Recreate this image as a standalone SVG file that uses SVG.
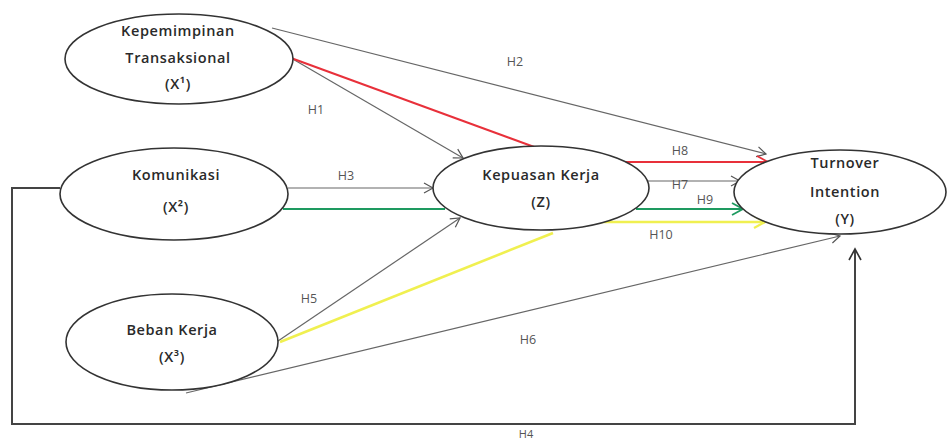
<svg xmlns="http://www.w3.org/2000/svg" width="947" height="441" viewBox="0 0 947 441">
<style>
.node{fill:#fff;stroke:#333;stroke-width:1.6}
.nt{font-family:"Open Sans","Liberation Sans",sans-serif;font-size:14.5px;font-weight:600;letter-spacing:0.6px;fill:#2a2a2a;text-anchor:middle}
.lb{font-family:"Open Sans","Liberation Sans",sans-serif;font-size:12.5px;fill:#555;text-anchor:middle}
.g{fill:none;stroke:#666;stroke-width:1.2}
.red{fill:none;stroke:#e8303a;stroke-width:2}
.grn{fill:none;stroke:#1e9a60;stroke-width:2}
.yel{fill:none;stroke:#f0f050;stroke-width:2.6}
.blk{fill:none;stroke:#444;stroke-width:2}
</style>
<defs>
<marker id="ag" markerWidth="12" markerHeight="12" refX="10" refY="6" orient="auto" markerUnits="userSpaceOnUse"><path d="M1,1 L10,6 L1,11" fill="none" stroke="#555" stroke-width="1.2"/></marker>
<marker id="ar" markerWidth="14" markerHeight="14" refX="12" refY="7" orient="auto" markerUnits="userSpaceOnUse"><path d="M1,1 L12,7 L1,13" fill="none" stroke="#e8303a" stroke-width="1.8"/></marker>
<marker id="an" markerWidth="14" markerHeight="14" refX="12" refY="7" orient="auto" markerUnits="userSpaceOnUse"><path d="M1,1 L12,7 L1,13" fill="none" stroke="#1e9a60" stroke-width="1.8"/></marker>
<marker id="ay" markerWidth="14" markerHeight="14" refX="12" refY="7" orient="auto" markerUnits="userSpaceOnUse"><path d="M1,1 L12,7 L1,13" fill="none" stroke="#f0f050" stroke-width="2.2"/></marker>
<marker id="ab" markerWidth="14" markerHeight="14" refX="12" refY="7" orient="auto" markerUnits="userSpaceOnUse"><path d="M1,1 L12,7 L1,13" fill="none" stroke="#333" stroke-width="1.6"/></marker>
</defs>
<g id="connectors">
<line class="g" x1="272" y1="28" x2="766" y2="154" marker-end="url(#ag)"/>
<line class="g" x1="291" y1="58" x2="463" y2="158" marker-end="url(#ag)"/>
<line class="red" x1="291" y1="58" x2="537" y2="148"/>
<line class="g" x1="288" y1="188" x2="433" y2="188" marker-end="url(#ag)"/>
<line class="grn" x1="283" y1="209" x2="445" y2="209"/>
<line class="g" x1="278" y1="341" x2="460" y2="218" marker-end="url(#ag)"/>
<line class="yel" x1="280" y1="342" x2="553" y2="233"/>
<line class="g" x1="186" y1="393" x2="840" y2="236" marker-end="url(#ag)"/>
<line class="red" x1="620" y1="162" x2="768" y2="162" marker-end="url(#ar)"/>
<line class="g" x1="647" y1="181" x2="740" y2="181" marker-end="url(#ag)"/>
<line class="grn" x1="636" y1="209" x2="743" y2="209" marker-end="url(#an)"/>
<line class="yel" x1="598" y1="222" x2="765" y2="222" marker-end="url(#ay)"/>
<polyline class="blk" points="60,188 12,188 12,424 855,424 855,249" marker-end="url(#ab)"/>
<text class="lb" x="515" y="66">H2</text>
<text class="lb" x="316" y="114">H1</text>
<text class="lb" x="346" y="180">H3</text>
<text class="lb" x="309" y="303">H5</text>
<text class="lb" x="528" y="344">H6</text>
<text class="lb" x="526" y="438" style="font-size:11px">H4</text>
<text class="lb" x="680" y="155">H8</text>
<text class="lb" x="680" y="189">H7</text>
<text class="lb" x="705" y="204">H9</text>
<text class="lb" x="661" y="239">H10</text>
</g>
<g id="x1"><ellipse class="node" cx="179" cy="59" rx="114" ry="45"/>
<text class="nt" x="178" y="36">Kepemimpinan</text><text class="nt" x="178" y="63">Transaksional</text><text class="nt" x="178" y="89">(X¹)</text></g>
<g id="x2"><ellipse class="node" cx="174" cy="194" rx="114" ry="46"/>
<text class="nt" x="176" y="180">Komunikasi</text><text class="nt" x="176" y="212">(X²)</text></g>
<g id="x3"><ellipse class="node" cx="172" cy="342" rx="106" ry="48"/>
<text class="nt" x="172" y="335">Beban Kerja</text><text class="nt" x="172" y="362">(X³)</text></g>
<g id="z"><ellipse class="node" cx="541" cy="188" rx="108" ry="42"/>
<text class="nt" x="541" y="180">Kepuasan Kerja</text><text class="nt" x="541" y="207">(Z)</text></g>
<g id="y"><ellipse class="node" cx="840" cy="192" rx="106" ry="42"/>
<text class="nt" x="845" y="168">Turnover</text><text class="nt" x="845" y="197">Intention</text><text class="nt" x="845" y="224">(Y)</text></g>
</svg>
